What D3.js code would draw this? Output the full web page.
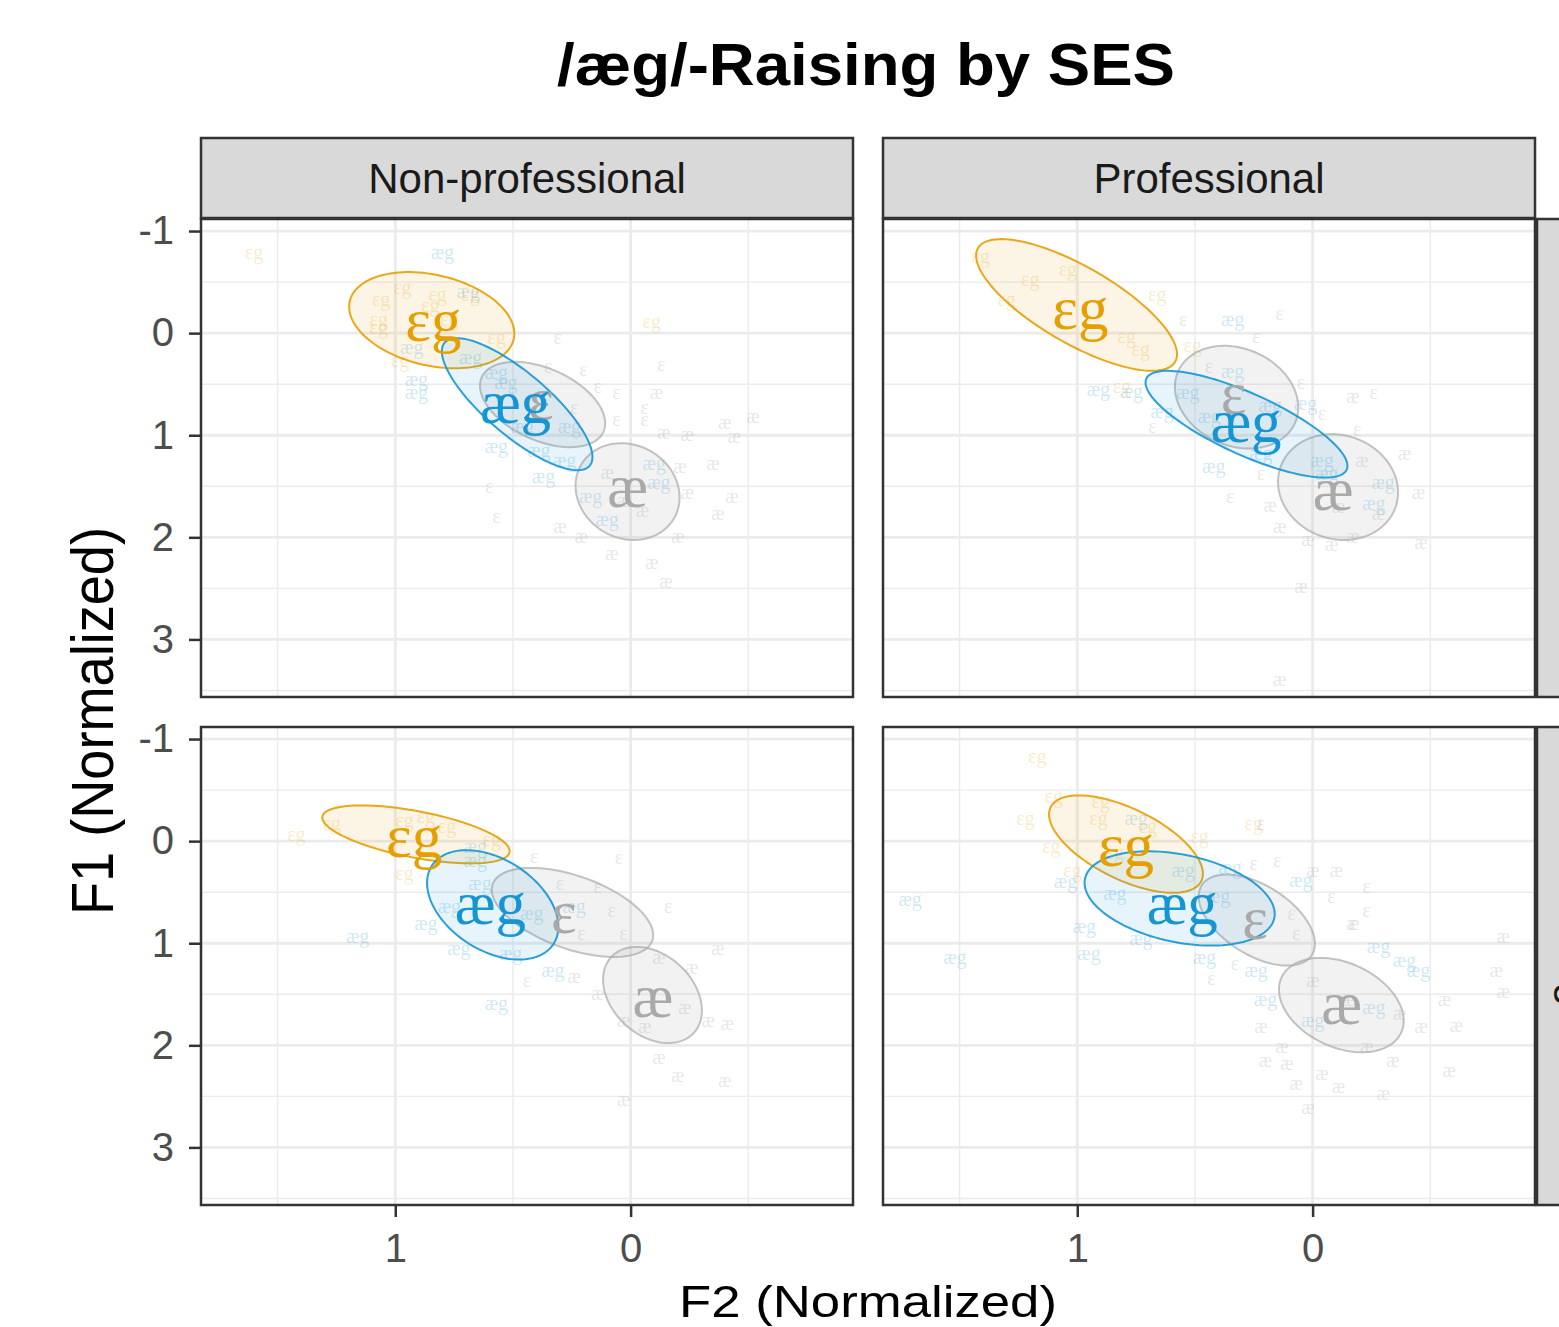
<!DOCTYPE html>
<html>
<head>
<meta charset="utf-8">
<script src="https://cdn.jsdelivr.net/npm/d3@7"></script>
<style>
	body { margin: 0; background: #fff; }
	text { font-family: "Liberation Sans", Arial, Helvetica, sans-serif; }
</style>
</head>
<body>
<svg id="chart0"></svg>
<script>
// facets
var col_labels = ['Non-professional', 'Professional'];
var row_labels = ['Older', 'Younger'];
var vowels = ['æ', 'ɛ', 'ɛg', 'æg'];

var x_ticks = [1, 0];
var y_ticks = [-1, 0, 1, 2, 3];
var x_minor = [1.5, 0.5, -0.5];
var y_minor = [-0.5, 0.5, 1.5, 2.5, 3.5];

// tokens [F2, F1] -- top row, non-professional
var eg_NP1 = [[1.60,-0.79],[-0.09,-0.12],[1.06,-0.33],[0.97,-0.45],[0.82,-0.38],[1.07,-0.14],[1.07,-0.06],[0.85,-0.28],[0.68,-0.38],[0.57,0.04],[0.98,0.26],[0.77,-0.14]];
var aeg_NP1 = [[0.80,-0.79],[0.93,0.14],[0.91,0.45],[0.91,0.58],[0.69,-0.41],[0.68,0.23],[0.57,0.38],[0.53,0.48],[0.57,1.11],[0.39,1.14],[0.28,1.24],[0.37,1.40],[-0.10,1.27],[-0.12,1.46],[0.17,1.60],[0.10,1.82],[0.26,0.91],[0.46,0.91]];
var e_NP1 = [[0.31,0.04],[-0.13,0.30],[0.14,0.52],[0.06,0.58],[-0.06,0.72],[0.06,0.84],[-0.06,0.84],[0.20,0.35],[0.60,1.50],[0.57,1.79],[0.24,0.72],[0.35,0.32]];
var ae_NP1 = [[-0.11,0.58],[-0.40,0.87],[-0.52,0.81],[-0.14,0.97],[-0.24,0.99],[-0.44,1.01],[-0.35,1.27],[-0.21,1.30],[-0.43,1.60],[-0.37,1.76],[0.30,1.89],[0.21,1.99],[0.08,2.15],[-0.09,2.24],[-0.15,2.43],[-0.20,1.99],[-0.24,1.56],[0.03,1.63],[-0.05,1.73],[0.10,1.36]];

// top row, professional
var eg_P1 = [[1.41,-0.76],[1.20,-0.53],[1.04,-0.63],[1.30,-0.33],[0.66,-0.38],[0.79,0.03],[0.73,0.16],[0.81,0.52],[0.51,0.12]];
var aeg_P1 = [[0.34,-0.14],[0.91,0.55],[0.77,0.57],[0.53,0.58],[0.34,0.37],[0.18,0.70],[0.03,0.68],[0.44,0.81],[0.64,0.76],[0.42,1.30],[-0.04,1.24],[-0.30,1.46],[-0.26,1.66],[-0.06,1.37],[0.22,1.17]];
var e_P1 = [[0.55,-0.14],[0.14,-0.20],[0.24,0.03],[-0.26,0.58],[0.05,0.48],[-0.04,0.78],[-0.19,0.94],[0.35,1.60],[0.68,0.91],[0.44,0.32],[0.22,1.37]];
var ae_P1 = [[-0.17,0.62],[-0.39,1.17],[-0.45,1.56],[0.18,1.68],[0.14,1.89],[0.02,2.02],[-0.08,2.07],[-0.17,1.99],[-0.46,2.05],[0.05,2.48],[0.14,3.39],[-0.11,1.69],[-0.28,1.76],[-0.21,1.24]];

// bottom row, non-professional
var eg_NP2 = [[1.42,-0.07],[1.27,-0.18],[0.96,-0.21],[0.78,-0.15],[0.96,0.31],[0.59,-0.02],[0.87,-0.25]];
var aeg_NP2 = [[1.16,0.93],[0.87,0.80],[0.77,0.64],[0.66,0.18],[0.64,0.41],[0.73,1.05],[0.57,1.59],[0.33,1.26],[0.51,1.10],[0.24,0.64],[0.66,0.05],[0.42,0.70]];
var e_NP2 = [[0.41,0.15],[0.05,0.16],[-0.16,0.64],[0.30,0.41],[0.08,0.67],[0.03,0.90],[0.44,1.36],[0.21,0.90],[0.14,0.44]];
var ae_NP2 = [[-0.37,1.05],[0.24,1.32],[-0.12,1.13],[-0.26,1.23],[-0.23,1.62],[-0.33,1.75],[-0.41,1.78],[0.03,1.75],[-0.06,1.81],[-0.12,2.11],[-0.20,2.29],[-0.40,2.34],[0.03,2.53],[0.14,1.49]];

// bottom row, professional
var eg_P2 = [[1.17,-0.83],[1.10,-0.44],[1.22,-0.23],[0.91,-0.23],[0.90,-0.39],[1.11,0.05],[1.02,0.28],[0.70,-0.15],[0.48,-0.05],[0.84,0.11],[0.25,-0.18]];
var aeg_P2 = [[1.71,0.57],[1.52,1.13],[1.05,0.39],[0.97,0.83],[0.95,1.10],[0.75,-0.23],[0.73,0.95],[0.55,0.28],[0.35,0.25],[0.46,1.13],[0.24,1.26],[0.05,0.38],[-0.28,1.03],[-0.39,1.16],[-0.45,1.26],[-0.26,1.62],[0.20,1.55],[0.00,1.75],[0.84,0.51],[0.40,0.54]];
var e_P2 = [[0.22,-0.18],[0.25,0.21],[0.15,0.18],[-0.23,0.44],[-0.23,0.67],[-0.17,0.80],[-0.08,0.54],[0.07,0.90],[0.43,1.34],[0.33,1.19],[0.09,0.70]];
var ae_P2 = [[0.00,0.28],[-0.10,0.28],[-0.17,0.80],[-0.81,0.93],[-0.78,1.26],[-0.81,1.47],[-0.56,1.55],[-0.61,1.80],[-0.46,1.81],[-0.58,2.24],[-0.34,2.14],[-0.30,2.47],[-0.11,2.40],[0.07,2.37],[0.02,2.60],[0.20,2.14],[0.11,2.17],[-0.04,2.27],[0.22,1.81],[0.13,2.01],[-0.23,2.01],[-0.37,1.68],[0.00,1.36],[-0.15,1.55]];

// ellipses, order of vowels: [meanF2, meanF1, sdF2, sdF1, r]
var ell_NP1 = [[0.013,1.552,0.221,0.474,-0.12],[0.374,0.699,0.266,0.418,-0.44],[0.845,-0.127,0.351,0.471,-0.28],[0.482,0.696,0.320,0.647,-0.80]];
var ell_P1 = [[-0.108,1.508,0.255,0.518,-0.10],[0.323,0.627,0.262,0.503,-0.20],[1.003,-0.276,0.427,0.645,-0.75],[0.281,0.892,0.429,0.523,-0.78]];
var ell_NP2 = [[-0.093,1.507,0.210,0.471,-0.32],[0.247,0.698,0.343,0.436,-0.51],[0.912,-0.066,0.398,0.284,-0.58],[0.586,0.624,0.279,0.536,-0.40]];
var ell_P2 = [[-0.122,1.606,0.265,0.462,-0.33],[0.237,0.773,0.247,0.446,-0.52],[0.793,0.029,0.327,0.477,-0.61],[0.565,0.561,0.404,0.462,-0.33]];

// vowel means (big labels), order of vowels: [F2, F1]
var mean_NP1 = [[0.013,1.500],[0.380,0.650],[0.838,-0.127],[0.489,0.676]];
var mean_P1 = [[-0.087,1.536],[0.336,0.588],[0.987,-0.245],[0.283,0.863]];
var mean_NP2 = [[-0.094,1.525],[0.284,0.701],[0.920,-0.044],[0.596,0.608]];
var mean_P2 = [[-0.123,1.591],[0.245,0.758],[0.793,0.039],[0.554,0.611]];

// -------------------------------------------------------

var width = 1559;
var height = 1327;
var panel_x = [201, 883];
var panel_y = [219, 727];
var pw = 652;
var ph = 478;

var colors = {'æ': '#a9a9a9', 'ɛ': '#a9a9a9', 'ɛg': '#e69f00', 'æg': '#1496d4'};
var serif = '"Liberation Serif", "DejaVu Serif", serif';

var panels = [
	{'col': 0, 'row': 0, 'tok': [ae_NP1, e_NP1, eg_NP1, aeg_NP1], 'ell': ell_NP1, 'mean': mean_NP1},
	{'col': 1, 'row': 0, 'tok': [ae_P1, e_P1, eg_P1, aeg_P1], 'ell': ell_P1, 'mean': mean_P1},
	{'col': 0, 'row': 1, 'tok': [ae_NP2, e_NP2, eg_NP2, aeg_NP2], 'ell': ell_NP2, 'mean': mean_NP2},
	{'col': 1, 'row': 1, 'tok': [ae_P2, e_P2, eg_P2, aeg_P2], 'ell': ell_P2, 'mean': mean_P2}
];

var x_conv = d3.scaleLinear().domain([1.8255, -0.945]).range([0, pw]);
var y_conv = d3.scaleLinear().domain([-1.118, 3.564]).range([0, ph]);

var svg = d3.select('#chart0')
	.attr('width', width)
	.attr('height', height);

svg.append('rect').attr('width', width).attr('height', height).attr('fill', '#fff');

var ellipse_line = d3.line()
	.x(function(d) { return x_conv(d[0]); })
	.y(function(d) { return y_conv(d[1]); })
	.curve(d3.curveLinearClosed);

function ellipse_points(e) {
	var pts = [];
	var k = Math.sqrt(1 - e[4] * e[4]);
	for (var i = 0; i < 120; i++) {
		var t = 2 * Math.PI * i / 120;
		var u = Math.cos(t), v = Math.sin(t);
		pts.push([e[0] + e[2] * u, e[1] + e[3] * (e[4] * u + k * v)]);
	}
	return pts;
}

panels.forEach(function(p, pi) {
	var g = svg.append('g')
		.attr('transform', 'translate(' + panel_x[p.col] + ',' + panel_y[p.row] + ')');

	g.append('clipPath').attr('id', 'clip' + pi)
		.append('rect').attr('width', pw).attr('height', ph);

	g.append('rect').attr('width', pw).attr('height', ph).attr('fill', '#fff');

	var inner = g.append('g').attr('clip-path', 'url(#clip' + pi + ')');

	// grid
	inner.selectAll('line.vminor').data(x_minor).enter().append('line')
		.attr('x1', function(d) { return x_conv(d); }).attr('x2', function(d) { return x_conv(d); })
		.attr('y1', 0).attr('y2', ph)
		.attr('stroke', '#ebebeb').attr('stroke-width', 1.4);
	inner.selectAll('line.hminor').data(y_minor).enter().append('line')
		.attr('y1', function(d) { return y_conv(d); }).attr('y2', function(d) { return y_conv(d); })
		.attr('x1', 0).attr('x2', pw)
		.attr('stroke', '#ebebeb').attr('stroke-width', 1.4);
	inner.selectAll('line.vmajor').data(x_ticks).enter().append('line')
		.attr('x1', function(d) { return x_conv(d); }).attr('x2', function(d) { return x_conv(d); })
		.attr('y1', 0).attr('y2', ph)
		.attr('stroke', '#ebebeb').attr('stroke-width', 2.8);
	inner.selectAll('line.hmajor').data(y_ticks).enter().append('line')
		.attr('y1', function(d) { return y_conv(d); }).attr('y2', function(d) { return y_conv(d); })
		.attr('x1', 0).attr('x2', pw)
		.attr('stroke', '#ebebeb').attr('stroke-width', 2.8);

	// single tokens
	vowels.forEach(function(v, vi) {
		inner.selectAll('text.tok' + vi)
			.data(p.tok[vi]).enter()
			.append('text')
			.attr('x', function(d) { return x_conv(d[0]); })
			.attr('y', function(d) { return y_conv(d[1]); })
			.attr('text-anchor', 'middle')
			.attr('dominant-baseline', 'central')
			.style('font-family', serif)
			.style('font-size', '20px')
			.attr('fill', colors[v])
			.attr('fill-opacity', vi < 2 ? 0.28 : 0.22)
			.text(v);
	});

	// ellipses
	inner.selectAll('path.ell')
		.data(p.ell).enter()
		.append('path')
		.attr('d', function(e) { return ellipse_line(ellipse_points(e)); })
		.attr('fill', function(e, i) { return colors[vowels[i]]; })
		.attr('fill-opacity', function(e, i) { return i < 2 ? 0.15 : 0.1; })
		.attr('stroke', function(e, i) { return colors[vowels[i]]; })
		.attr('stroke-opacity', function(e, i) { return i < 2 ? 0.7 : 0.9; })
		.attr('stroke-width', 2);

	// vowel means
	inner.selectAll('text.mean')
		.data(p.mean).enter()
		.append('text')
		.attr('x', function(d) { return x_conv(d[0]); })
		.attr('y', function(d) { return y_conv(d[1]); })
		.attr('text-anchor', 'middle')
		.attr('dominant-baseline', 'central')
		.style('font-family', serif)
		.style('font-size', '61px')
		.attr('fill', function(d, i) { return colors[vowels[i]]; })
		.text(function(d, i) { return vowels[i]; });

	g.append('rect').attr('width', pw).attr('height', ph)
		.attr('fill', 'none').attr('stroke', '#333').attr('stroke-width', 2.5);

	// axes
	if (p.col == 0) {
		var ax = g.append('g').call(d3.axisLeft(y_conv).tickValues(y_ticks)
			.tickSize(12).tickSizeOuter(0).tickPadding(15)
			.tickFormat(function(d) { return String(d); }));
		ax.select('.domain').remove();
		ax.selectAll('line').attr('stroke', '#333').attr('stroke-width', 2.5);
		ax.selectAll('text').style('font-size', '40px').attr('fill', '#4d4d4d')
			.style('font-family', '"Liberation Sans", Arial, sans-serif');
	}
	if (p.row == 1) {
		var axb = g.append('g').attr('transform', 'translate(0,' + ph + ')')
			.call(d3.axisBottom(x_conv).tickValues(x_ticks)
			.tickSize(12).tickSizeOuter(0).tickPadding(17)
			.tickFormat(function(d) { return String(d); }));
		axb.select('.domain').remove();
		axb.selectAll('line').attr('stroke', '#333').attr('stroke-width', 2.5);
		axb.selectAll('text').style('font-size', '40px').attr('fill', '#4d4d4d')
			.style('font-family', '"Liberation Sans", Arial, sans-serif');
	}
});

// strips on top
svg.selectAll('rect.strip_top')
	.data(col_labels).enter()
	.append('rect')
	.attr('x', function(d, i) { return panel_x[i]; })
	.attr('y', 138)
	.attr('width', pw)
	.attr('height', 80)
	.attr('fill', '#d9d9d9')
	.attr('stroke', '#333')
	.attr('stroke-width', 2.5);

svg.selectAll('text.strip_top')
	.data(col_labels).enter()
	.append('text')
	.attr('x', function(d, i) { return panel_x[i] + pw / 2; })
	.attr('y', 193)
	.attr('text-anchor', 'middle')
	.style('font-size', '42px')
	.attr('fill', '#1a1a1a')
	.text(function(d) { return d; });

// strips on the right (mostly outside the picture)
svg.selectAll('rect.strip_right')
	.data(row_labels).enter()
	.append('rect')
	.attr('x', 1537)
	.attr('y', function(d, i) { return panel_y[i]; })
	.attr('width', 80)
	.attr('height', ph)
	.attr('fill', '#d9d9d9')
	.attr('stroke', '#333')
	.attr('stroke-width', 2.5);

svg.selectAll('text.strip_right')
	.data(row_labels).enter()
	.append('text')
	.attr('transform', function(d, i) {
		return 'translate(1577,' + (panel_y[i] + ph / 2) + ') rotate(90)';
	})
	.attr('text-anchor', 'middle')
	.attr('dominant-baseline', 'central')
	.style('font-size', '42px')
	.attr('fill', '#1a1a1a')
	.text(function(d) { return d; });

// titles
svg.append('text')
	.attr('x', 866).attr('y', 85)
	.attr('text-anchor', 'middle')
	.attr('textLength', 618).attr('lengthAdjust', 'spacingAndGlyphs')
	.style('font-size', '59px').style('font-weight', 'bold')
	.attr('fill', '#000')
	.text('/æg/-Raising by SES');

svg.append('text')
	.attr('x', 868).attr('y', 1317)
	.attr('text-anchor', 'middle')
	.attr('textLength', 378).attr('lengthAdjust', 'spacingAndGlyphs')
	.style('font-size', '44px')
	.attr('fill', '#000')
	.text('F2 (Normalized)');

svg.append('text')
	.attr('transform', 'translate(113,721) rotate(-90)')
	.attr('text-anchor', 'middle')
	.attr('textLength', 388).attr('lengthAdjust', 'spacingAndGlyphs')
	.style('font-size', '60px')
	.attr('fill', '#000')
	.text('F1 (Normalized)');
</script>
</body>
</html>
